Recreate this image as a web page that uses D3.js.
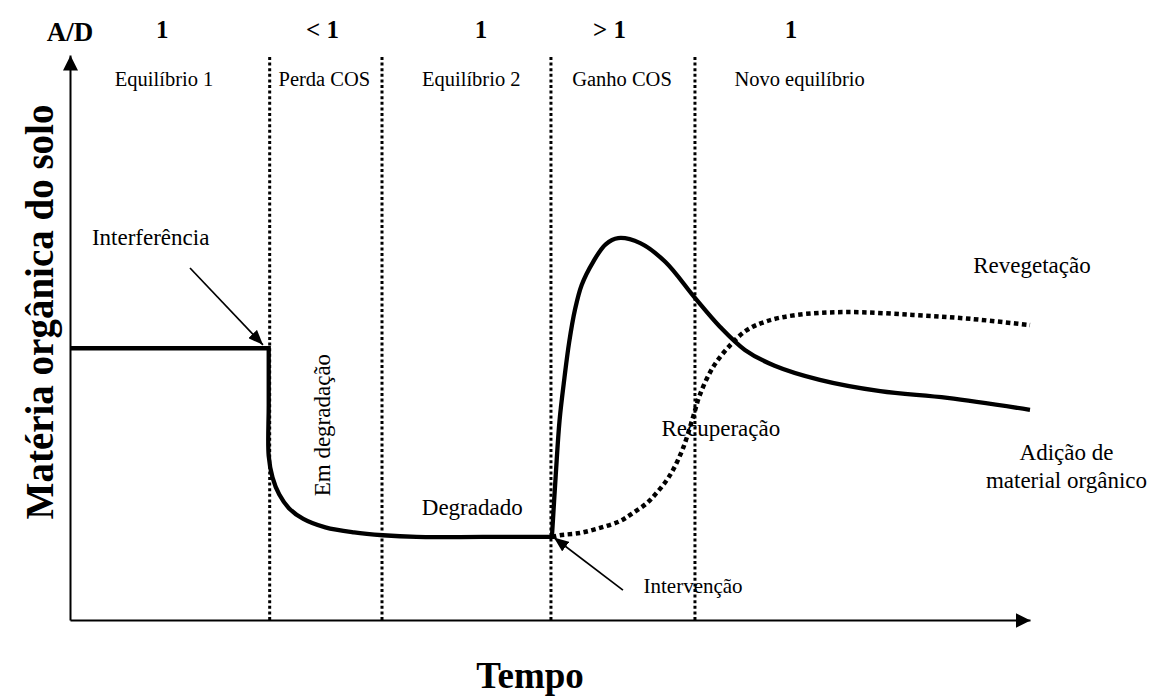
<!DOCTYPE html>
<html>
<head>
<meta charset="utf-8">
<script src="https://cdn.jsdelivr.net/npm/d3@7"></script>
<style>
  body { margin: 0; background: #fff; }
  svg text { font-family: "Liberation Serif", "Times New Roman", serif; fill: #000; }
</style>
</head>
<body>
<script>
// time axis runs 0-100, soil organic matter axis runs 0-100

// phase boundaries (dotted verticals)
var boundaries = [20.8, 32.5, 50.1, 65.1];

// phase names and their A/D ratio
var phases = ["Equilíbrio 1", "Perda COS", "Equilíbrio 2", "Ganho COS", "Novo equilíbrio"];
var phaseX = [9.8, 26.5, 41.8, 57.5, 76.0];
var ratios = ["1", "< 1", "1", "> 1", "1"];
var ratioX = [9.6, 26.3, 42.8, 56.2, 75.1];

// first equilibrium level
var eqTime = [0, 20.7];
var eqMOS = [48.1, 48.1];

// interference: sharp drop, then degradation down to the degraded plateau
var degTime = [20.7, 20.7, 20.7, 21.1, 21.8, 22.8, 24.3, 26.6, 29.6, 32.6, 36.1, 43.0, 50.2];
var degMOS = [48.1, 38.0, 29.0, 25.2, 22.2, 19.8, 17.9, 16.4, 15.5, 15.0, 14.7, 14.7, 14.7];

// addition of organic material (solid)
var addTime = [50.2, 50.6, 51.0, 51.5, 52.0, 52.6, 53.3, 54.5, 55.8, 57.1, 59.4, 62.0, 65.1, 67.7, 70.3, 73.4, 78.1, 84.4, 91.4, 100];
var addMOS = [14.7, 25.7, 35.4, 42.8, 49.2, 54.9, 59.3, 63.4, 66.5, 67.6, 66.7, 63.4, 57.0, 51.9, 47.8, 45.0, 42.5, 40.5, 39.3, 37.2];

// revegetation (dotted)
var revTime = [50.2, 51.0, 53.1, 55.2, 57.3, 58.6, 60.1, 61.1, 62.1, 62.8, 63.9, 64.9, 65.6, 67.0, 68.8, 70.5, 72.6, 75.7, 80.9, 87.8, 93.8, 100];
var revMOS = [14.7, 15.0, 15.4, 16.3, 17.5, 18.9, 20.7, 22.5, 24.6, 26.5, 30.6, 35.9, 39.8, 44.8, 48.7, 51.3, 52.9, 54.0, 54.5, 54.0, 53.3, 52.2];

// annotation texts [label, time, mos]
var notes = [
  ["Interferência", 8.4, 66.4],
  ["Degradado", 41.9, 18.6],
  ["Recuperação", 67.8, 32.6],
  ["Revegetação", 100.2, 61.4],
  ["Adição de", 103.8, 28.3],
  ["material orgânico", 103.8, 23.4]
];

// annotation arrows [fromTime, fromMOS, toTime, toMOS]
var arrows = [
  [12.5, 62.3, 20.1, 48.7],
  [57.6, 5.3, 50.4, 14.6]
];

var dim = {
  w: 1151,
  h: 696,
  left: 70,
  right: 1030,
  top: 55,
  bottom: 620
};

var svg = d3.select("body")
  .append("svg")
  .attr("width", dim.w)
  .attr("height", dim.h);

var x = d3.scaleLinear().domain([0, 100]).range([dim.left, dim.right]);
var y = d3.scaleLinear().domain([0, 100]).range([dim.bottom, dim.top]);

function zip(a, b) {
  return a.map(function(d, i) { return [d, b[i]]; });
}

// arrow heads
var defs = svg.append("defs");
defs.append("marker")
  .attr("id", "axisArrow")
  .attr("viewBox", "0 0 10 10")
  .attr("refX", 10)
  .attr("refY", 5)
  .attr("markerUnits", "userSpaceOnUse")
  .attr("markerWidth", 15)
  .attr("markerHeight", 15)
  .attr("preserveAspectRatio", "none")
  .attr("orient", "auto")
  .append("path")
  .attr("d", "M0,0L10,5L0,10z")
  .attr("fill", "#000");

defs.append("marker")
  .attr("id", "noteArrow")
  .attr("viewBox", "0 0 10 10")
  .attr("refX", 10)
  .attr("refY", 5)
  .attr("markerUnits", "userSpaceOnUse")
  .attr("markerWidth", 15)
  .attr("markerHeight", 12)
  .attr("preserveAspectRatio", "none")
  .attr("orient", "auto")
  .append("path")
  .attr("d", "M0,0L10,5L0,10z")
  .attr("fill", "#000");

// phase boundaries
svg.append("g")
  .selectAll("line")
  .data(boundaries)
  .enter()
  .append("line")
  .attr("x1", function(d) { return x(d); })
  .attr("x2", function(d) { return x(d); })
  .attr("y1", y(0))
  .attr("y2", y(100))
  .attr("stroke", "#000")
  .attr("stroke-width", 3)
  .attr("stroke-dasharray", "3,2.6");

// axes without ticks, with arrows
svg.append("g")
  .attr("transform", "translate(0," + y(0) + ")")
  .call(d3.axisBottom(x).tickValues([]).tickSizeOuter(0));
svg.append("g")
  .attr("transform", "translate(" + x(0) + ",0)")
  .call(d3.axisLeft(y).tickValues([]).tickSizeOuter(0));
svg.selectAll(".domain")
  .attr("stroke-width", 2)
  .attr("marker-end", "url(#axisArrow)");

// curves
var straight = d3.line()
  .x(function(d) { return x(d[0]); })
  .y(function(d) { return y(d[1]); });
var smooth = d3.line()
  .x(function(d) { return x(d[0]); })
  .y(function(d) { return y(d[1]); })
  .curve(d3.curveCatmullRom.alpha(0.5));

svg.append("path")
  .attr("d", smooth(zip(revTime, revMOS)))
  .attr("fill", "none")
  .attr("stroke", "#000")
  .attr("stroke-width", 4.5)
  .attr("stroke-dasharray", "4.5,3.5");

svg.append("path")
  .attr("d", straight(zip(eqTime, eqMOS)))
  .attr("fill", "none")
  .attr("stroke", "#000")
  .attr("stroke-width", 4.3);

svg.append("path")
  .attr("d", smooth(zip(degTime, degMOS)))
  .attr("fill", "none")
  .attr("stroke", "#000")
  .attr("stroke-width", 4.3)
  .attr("stroke-linecap", "square");

svg.append("path")
  .attr("d", smooth(zip(addTime, addMOS)))
  .attr("fill", "none")
  .attr("stroke", "#000")
  .attr("stroke-width", 4.3);

// annotation arrows
svg.append("g")
  .selectAll("line")
  .data(arrows)
  .enter()
  .append("line")
  .attr("x1", function(d) { return x(d[0]); })
  .attr("y1", function(d) { return y(d[1]); })
  .attr("x2", function(d) { return x(d[2]); })
  .attr("y2", function(d) { return y(d[3]); })
  .attr("stroke", "#000")
  .attr("stroke-width", 1.7)
  .attr("marker-end", "url(#noteArrow)");

// top labels: A/D ratio and phase names
svg.append("text")
  .attr("x", x(0))
  .attr("y", 41)
  .attr("text-anchor", "middle")
  .style("font-size", "27px")
  .style("font-weight", "bold")
  .text("A/D");

svg.append("g")
  .selectAll("text")
  .data(ratios)
  .enter()
  .append("text")
  .attr("x", function(d, i) { return x(ratioX[i]); })
  .attr("y", 38)
  .attr("text-anchor", "middle")
  .style("font-size", "25px")
  .style("font-weight", "bold")
  .text(function(d) { return d; });

svg.append("g")
  .selectAll("text")
  .data(phases)
  .enter()
  .append("text")
  .attr("x", function(d, i) { return x(phaseX[i]); })
  .attr("y", 86)
  .attr("text-anchor", "middle")
  .style("font-size", "20.5px")
  .text(function(d) { return d; });

// annotations in the plot
svg.append("g")
  .selectAll("text")
  .data(notes)
  .enter()
  .append("text")
  .attr("x", function(d) { return x(d[1]); })
  .attr("y", function(d) { return y(d[2]); })
  .attr("text-anchor", "middle")
  .style("font-size", "23px")
  .text(function(d) { return d[0]; });

svg.append("text")
  .attr("x", x(64.9))
  .attr("y", y(4.8))
  .attr("text-anchor", "middle")
  .style("font-size", "21px")
  .text("Intervenção");

svg.append("text")
  .attr("transform", "translate(" + x(27.1) + "," + y(34.5) + ") rotate(-90)")
  .attr("text-anchor", "middle")
  .style("font-size", "23px")
  .text("Em degradação");

// axis titles
svg.append("text")
  .attr("transform", "translate(53,312) rotate(-90)")
  .attr("text-anchor", "middle")
  .style("font-size", "39px")
  .style("font-weight", "bold")
  .text("Matéria orgânica do solo");

svg.append("text")
  .attr("x", 530)
  .attr("y", 688)
  .attr("text-anchor", "middle")
  .style("font-size", "37px")
  .style("font-weight", "bold")
  .text("Tempo");
</script>
</body>
</html>
